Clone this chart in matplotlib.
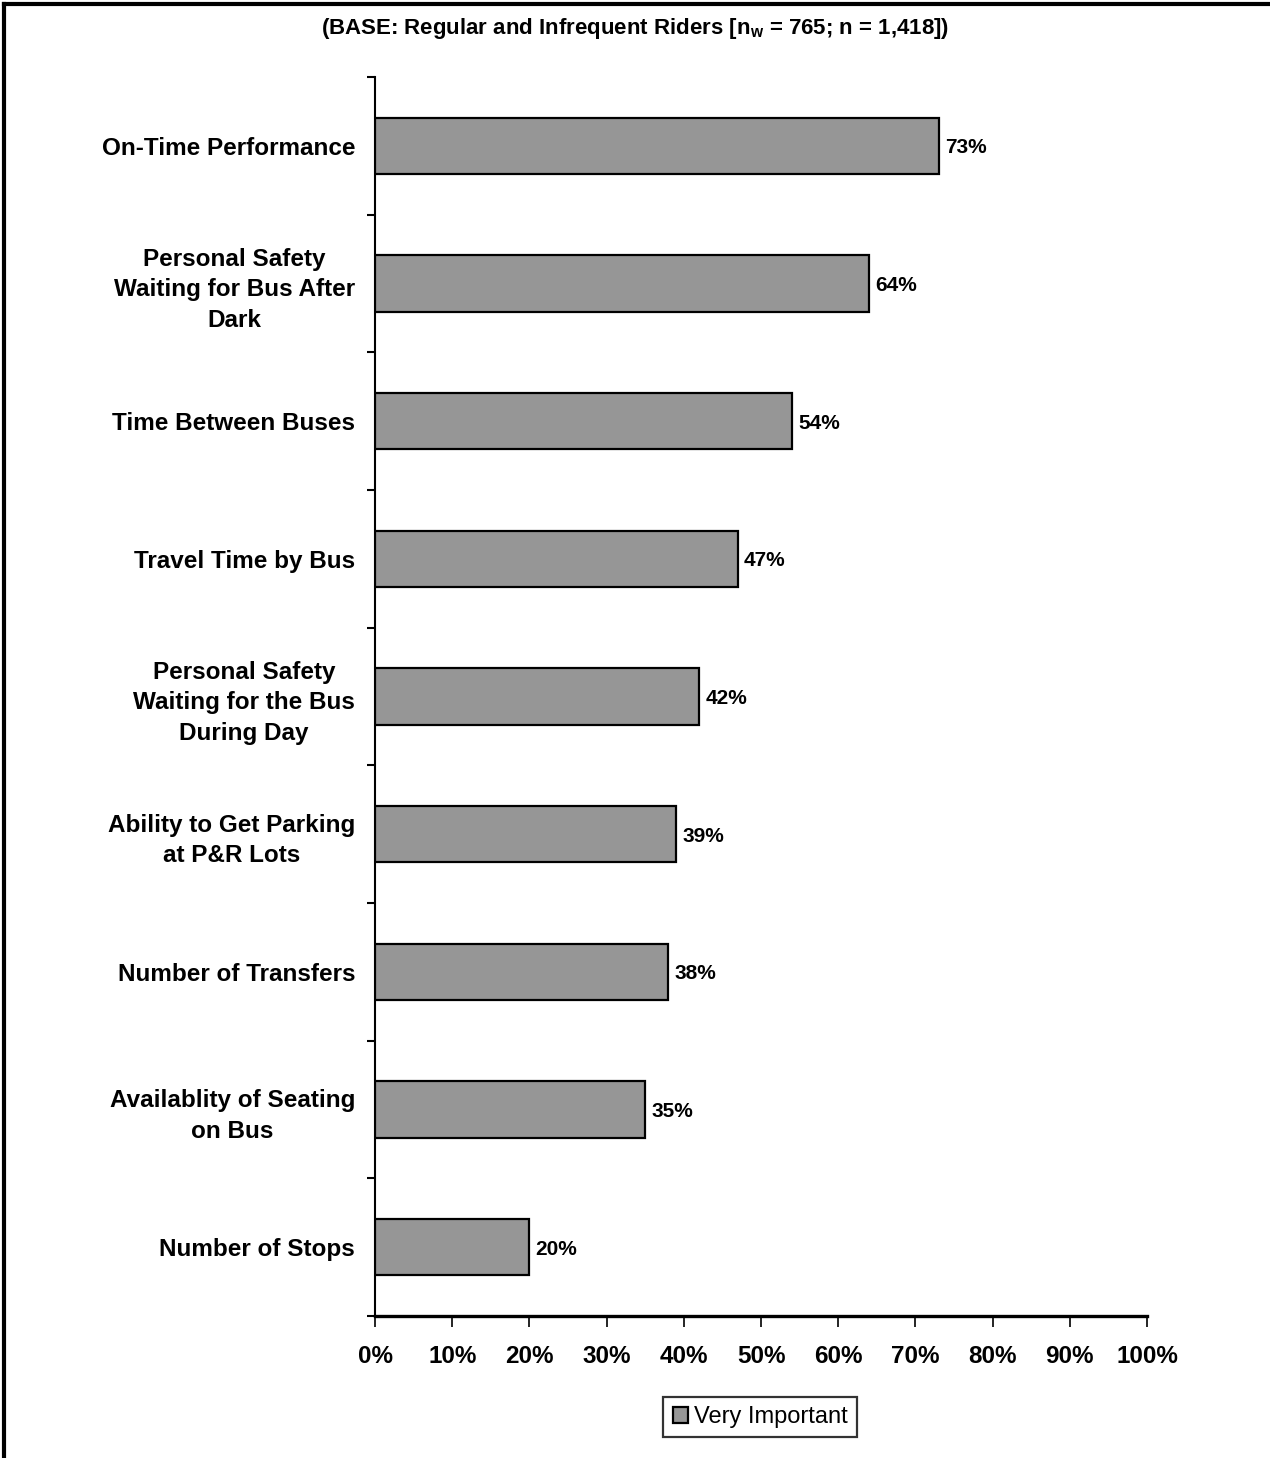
import matplotlib
matplotlib.use('Agg')
import matplotlib.pyplot as plt
from matplotlib.lines import Line2D
from matplotlib.ticker import FixedLocator

plt.rcParams['font.family'] = ['Liberation Sans', 'DejaVu Sans']
plt.rcParams['mathtext.fontset'] = 'custom'
plt.rcParams['mathtext.rm'] = 'Liberation Sans:bold'
plt.rcParams['mathtext.it'] = 'Liberation Sans:bold'
plt.rcParams['mathtext.bf'] = 'Liberation Sans:bold'

categories = [
    'On-Time Performance',
    'Personal Safety\nWaiting for Bus After\nDark',
    'Time Between Buses',
    'Travel Time by Bus',
    'Personal Safety\nWaiting for the Bus\nDuring Day',
    'Ability to Get Parking\nat P&R Lots',
    'Number of Transfers',
    'Availablity of Seating\non Bus',
    'Number of Stops',
]
very_important = [73, 64, 54, 47, 42, 39, 38, 35, 20]
xticks = list(range(0, 101, 10))
xticklabels = ['%d%%' % t for t in xticks]

fig = plt.figure(figsize=(12.7, 14.58), dpi=100)
ax = fig.add_axes([0.2953, 0.0974, 0.6079, 0.8498])

ypos = list(range(len(categories)))
ax.barh(ypos, very_important, height=0.41, color='#969696',
        edgecolor='black', linewidth=1.6, label='Very Important', zorder=3)

for y, v in zip(ypos, very_important):
    ax.text(v + 0.8, y, '%d%%' % v, va='center_baseline', ha='left',
            fontsize=15, fontweight='bold')

ax.set_xlim(0, 100)
ax.set_ylim(len(categories) - 0.5, -0.5)

# boundaries as major ticks, labels on minor ticks
ax.yaxis.set_major_locator(FixedLocator([i - 0.5 for i in range(len(categories) + 1)]))
ax.yaxis.set_major_formatter(plt.NullFormatter())
ax.yaxis.set_minor_locator(FixedLocator(ypos))
ax.set_yticklabels(categories, minor=True, fontsize=17.5, fontweight='bold',
                   multialignment='center', linespacing=1.42)
ax.tick_params(axis='y', which='major', length=6, width=1.5, direction='out')
ax.tick_params(axis='y', which='minor', length=0, pad=14.4)

ax.set_xticks(xticks)
ax.set_xticklabels(xticklabels, fontsize=17.5, fontweight='bold')
ax.tick_params(axis='x', length=8, width=1.2, direction='out', pad=13)

for s in ['top', 'right']:
    ax.spines[s].set_visible(False)
ax.spines['left'].set_linewidth(1.5)
ax.spines['bottom'].set_linewidth(2.4)

fig.text(0.5, 0.9805, r'(BASE: Regular and Infrequent Riders [n$_{w}$ = 765; n = 1,418])',
         ha='center', va='center', fontsize=16, fontweight='bold')

leg = ax.legend(loc='center', bbox_to_anchor=(0.5987, 0.0281),
                bbox_transform=fig.transFigure, frameon=True, fancybox=False,
                fontsize=17, handlelength=0.65, handleheight=0.65,
                handletextpad=0.25, borderpad=0.4, borderaxespad=0)
leg.get_frame().set_edgecolor('black')
leg.get_frame().set_linewidth(1.6)

# page border (top and left)
fig.add_artist(Line2D([0.003, 1.0], [0.9975, 0.9975], color='black', linewidth=3,
                      transform=fig.transFigure))
fig.add_artist(Line2D([0.003, 0.003], [0.0, 0.9975], color='black', linewidth=3,
                      transform=fig.transFigure))

fig.savefig('out.png', dpi=100)
